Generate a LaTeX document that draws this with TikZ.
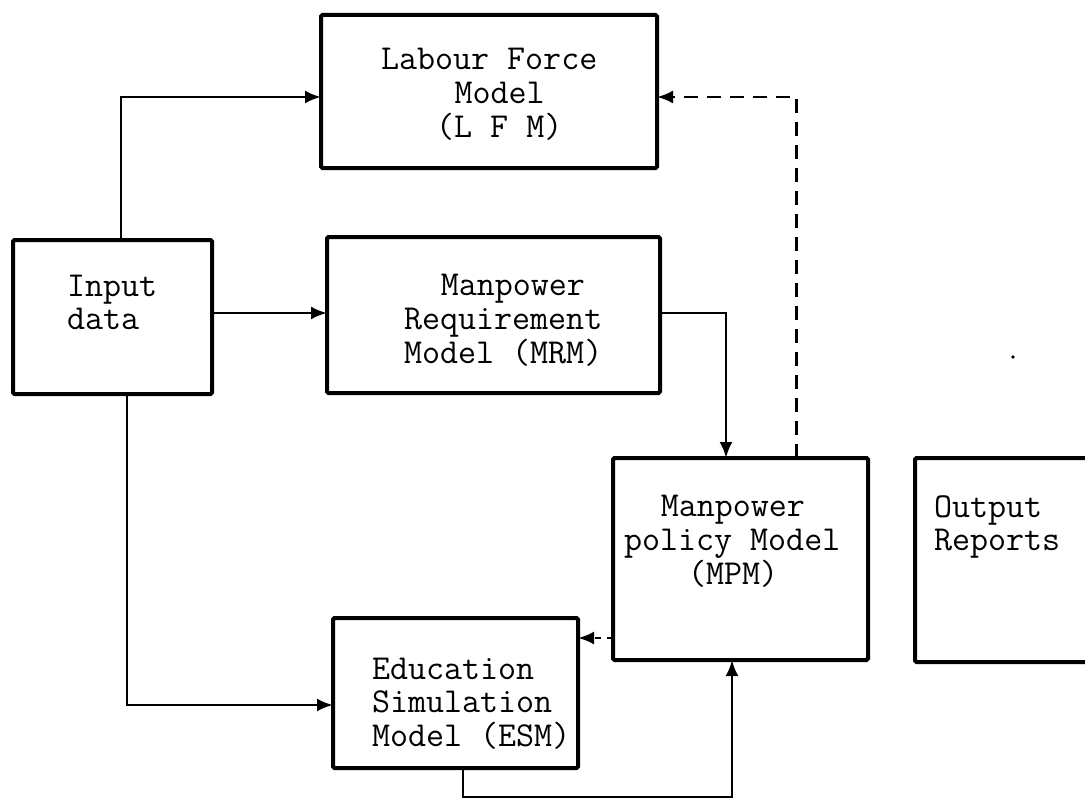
\documentclass[tikz,border=0pt]{standalone}
\usepackage{fontspec}
\usetikzlibrary{arrows.meta}

\tikzset{
  box/.style={draw, line width=4pt, rounded corners=1.5pt, inner sep=0pt, outer sep=0pt},
  lbl/.style={inner sep=0pt, outer sep=0pt, anchor=base west,
              font=\ttfamily\fontsize{35}{33.5}\selectfont},
  link/.style={line width=2.6pt, -{Latex[length=16pt,width=13pt]}},
  dlink/.style={link, dash pattern=on 14pt off 9pt},
  dotlink/.style={link, dash pattern=on 6pt off 6pt},
}
% multi-line label whose baseline is that of its first line
\newcommand{\lines}[1]{\begin{tabular}[t]{@{}l@{}}#1\end{tabular}}
% indent by a number of typewriter characters
\newcommand{\chars}[1]{\hspace*{\dimexpr #1\dimexpr 18.375pt\relax\relax}}

\begin{document}
\begin{tikzpicture}[x=1pt, y=-1pt]
  \useasboundingbox (0,0) rectangle (1085,800);
  \clip (0,0) rectangle (1085,800);

  % boxes
  \node[box, minimum width=336pt, minimum height=153pt] (lfm) at (489,91.5) {};
  \node[box, minimum width=199pt, minimum height=154pt] (inp) at (112.5,317) {};
  \node[box, minimum width=333pt, minimum height=156pt] (mrm) at (493.5,315) {};
  \node[box, minimum width=255pt, minimum height=202pt] (mpm) at (740.5,559) {};
  \node[box, minimum width=195pt, minimum height=204pt] (out) at (1012.5,560) {};
  \node[box, minimum width=245pt, minimum height=150pt] (esm) at (455.5,693) {};

  % box texts
  \node[lbl] (lfmtxt) at (381,70)
    {\lines{Labour Force\\\chars{4}Model\\\chars{3}(L F M)}};
  \node[lbl] (inptxt) at (67,296) {\lines{Input\\data}};
  \node[lbl] (mrmtxt) at (404,295.5)
    {\lines{\chars{2}Manpower\\Requirement\\Model (MRM)}};
  \node[lbl] (mpmtxt) at (624,516.5)
    {\lines{\chars{2}Manpower\\policy Model\\\hspace*{64pt}(MPM)}};
  \node[lbl] (outtxt) at (934,517) {\lines{Output\\Reports}};
  \node[lbl] (esmtxt) at (372,679)
    {\lines{Education\\Simulation\\Model (ESM)}};

  % connectors
  \draw[link] ([xshift=8.5pt]inp.north) |- ([yshift=-5.5pt]lfm.west);
  \draw[link] ([yshift=4pt]inp.east) -- ([yshift=4pt]inp.east -| mrm.west);
  \draw[link] ([xshift=14.5pt]inp.south) |- ([yshift=-12pt]esm.west);
  \draw[link] ([yshift=2pt]mrm.east) -| ([xshift=-14.5pt]mpm.north);
  \draw[dlink] ([xshift=56pt]mpm.north) |- ([yshift=-5.5pt]lfm.east);
  \draw[dotlink] ([yshift=-79pt]mpm.west) -- ([yshift=-79pt]mpm.west -| esm.east);
  \coordinate (loop) at ([xshift=7.5pt,yshift=-29pt]esm.south);
  \draw[link] ([xshift=7.5pt]esm.south) -- (loop) -| ([xshift=-8.5pt]mpm.south);

  % small speck
  \fill (1013,357) circle (1.8pt);
\end{tikzpicture}
\end{document}
